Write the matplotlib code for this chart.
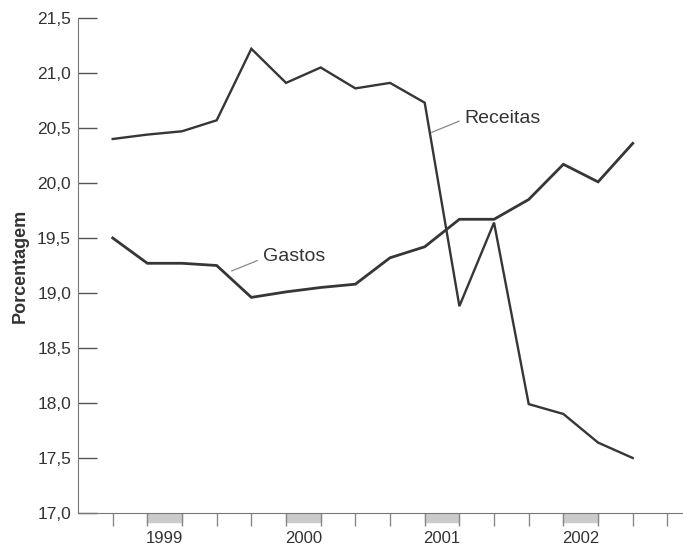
import matplotlib.pyplot as plt
from matplotlib.ticker import FuncFormatter

# Quarterly data, 1999 Q1 - 2002 Q4
quarters = list(range(16))
receitas = [20.40, 20.44, 20.47, 20.57, 21.22, 20.91, 21.05, 20.86, 20.91, 20.73,
            18.88, 19.64, 17.99, 17.90, 17.64, 17.50]
gastos = [19.50, 19.27, 19.27, 19.25, 18.96, 19.01, 19.05, 19.08, 19.32, 19.42,
          19.67, 19.67, 19.85, 20.17, 20.01, 20.36]
years = ['1999', '2000', '2001', '2002']
year_pos = [1.5, 5.5, 9.5, 13.5]
yticks = [17.0, 17.5, 18.0, 18.5, 19.0, 19.5, 20.0, 20.5, 21.0, 21.5]

plt.rcParams['font.family'] = ['Liberation Sans', 'DejaVu Sans']

fig = plt.figure(figsize=(6.83, 5.5), dpi=100)
ax = fig.add_axes([0.1142, 0.0673, 0.8858, 0.9])

line_color = '#363636'
ax.plot(quarters, receitas, color=line_color, lw=1.7, solid_joinstyle='miter')
ax.plot(quarters, gastos, color=line_color, lw=2.0, solid_joinstyle='miter')

ax.set_xlim(-1, 16.45)
ax.set_ylim(17.0, 21.5)

# y axis
ax.set_yticks(yticks)
ax.yaxis.set_major_formatter(FuncFormatter(lambda v, p: f'{v:.1f}'.replace('.', ',')))
ax.tick_params(axis='y', direction='in', length=14, width=1, color='#555555',
               labelsize=12.5, labelcolor='#333333', pad=5)
ax.set_ylabel('Porcentagem', fontsize=13, fontweight='bold', color='#333333', labelpad=6)

# x axis: quarter ticks, year labels in the middle of each year
ax.set_xticks(range(17))
ax.set_xticklabels([''] * 17)
ax.tick_params(axis='x', direction='out', length=9, width=1, color='#888888')
for pos, yr in zip(year_pos, years):
    ax.annotate(yr, xy=(pos, 0), xycoords=ax.get_xaxis_transform(),
                xytext=(0, -13), textcoords='offset points', ha='center', va='top',
                fontsize=12, color='#333333', annotation_clip=False)
    ax.add_patch(plt.Rectangle((pos - 0.5, -0.019), 1.0, 0.017,
                               transform=ax.get_xaxis_transform(), color='#cbcbcb',
                               clip_on=False, zorder=0))

for s in ['top', 'right']:
    ax.spines[s].set_visible(False)
ax.spines['left'].set_color('#777777')
ax.spines['bottom'].set_color('#777777')

# labels with leader lines
ax.annotate('Receitas', xy=(9.2, 20.46), xytext=(10.15, 20.59), fontsize=14,
            color='#333333', va='center', ha='left',
            arrowprops=dict(arrowstyle='-', color='#888888', lw=0.9,
                            shrinkA=2, shrinkB=0, relpos=(0, 0.45)))
ax.annotate('Gastos', xy=(3.43, 19.2), xytext=(4.33, 19.33), fontsize=14,
            color='#333333', va='center', ha='left',
            arrowprops=dict(arrowstyle='-', color='#888888', lw=0.9,
                            shrinkA=2, shrinkB=0, relpos=(0, 0.4)))

fig.savefig('out.png', dpi=100)
